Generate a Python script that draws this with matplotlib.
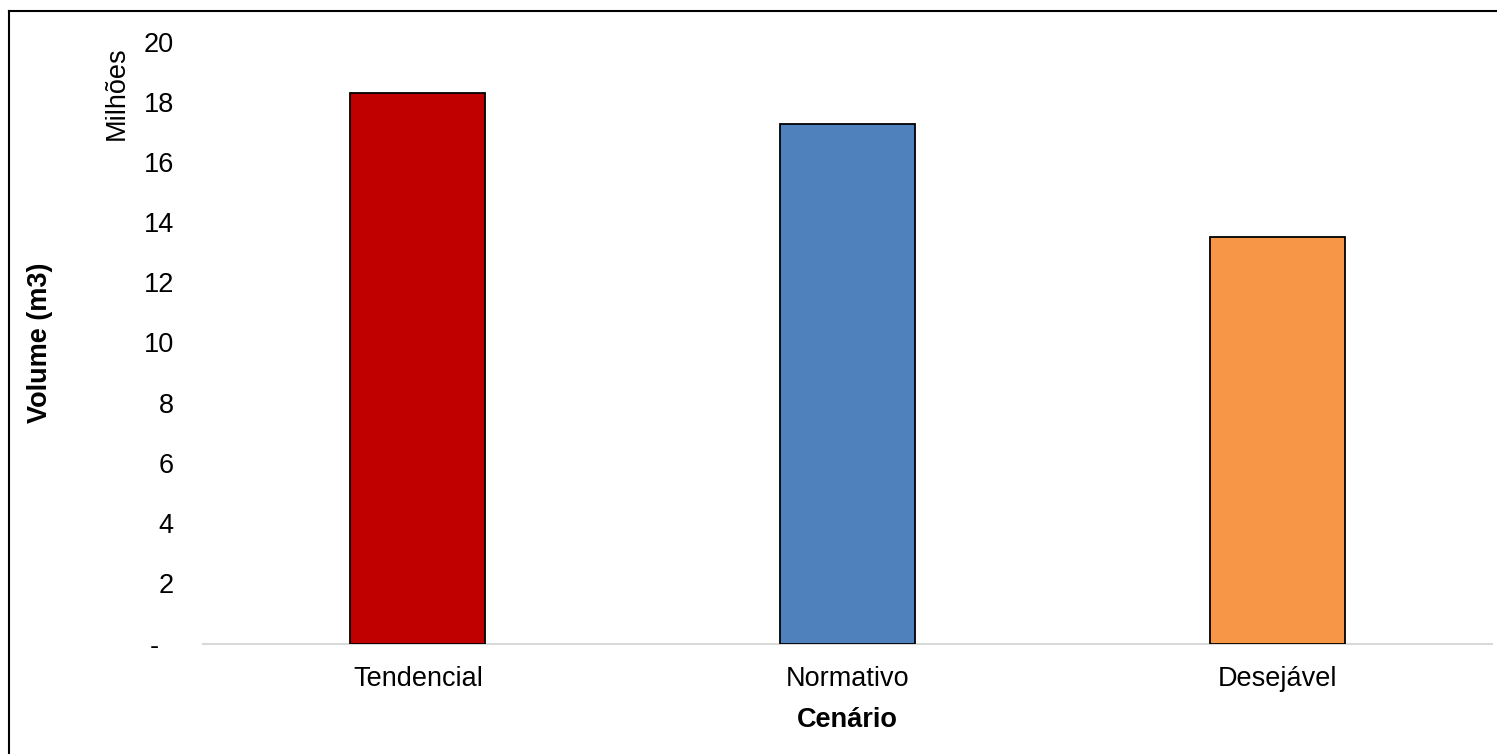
import matplotlib
matplotlib.use("Agg")
import matplotlib.pyplot as plt
from matplotlib.lines import Line2D

# Scenario volumes (millions of m3)
cenarios = ["Tendencial", "Normativo", "Desejável"]
volumes = [18.30, 17.27, 13.51]
cores = ["#C00000", "#4F81BD", "#F79646"]
yticks = [0, 2, 4, 6, 8, 10, 12, 14, 16, 18, 20]
ytick_labels = ["-  ", "2", "4", "6", "8", "10", "12", "14", "16", "18", "20"]

plt.rcParams["font.family"] = ["Liberation Sans", "DejaVu Sans"]

W, H = 1497, 754
FS = 19.5
fig = plt.figure(figsize=(W / 100, H / 100), dpi=100)
ax = fig.add_axes([203 / W, 1 - 643.5 / H, (1492 - 203) / W, (643.5 - 41.5) / H])

x = list(range(len(cenarios)))
ax.bar(x, volumes, width=0.314, color=cores, edgecolor="black", linewidth=1.3, zorder=3)

ax.set_xlim(-0.5, len(cenarios) - 0.5)
ax.set_ylim(0, 20)
ax.set_yticks(yticks)
ax.set_yticklabels(ytick_labels)
ax.set_xticks(x)
ax.set_xticklabels(cenarios)

ax.tick_params(axis="y", length=0, pad=21, labelsize=FS)
ax.tick_params(axis="x", length=0, pad=16, labelsize=FS)

for side in ["top", "right", "left"]:
    ax.spines[side].set_visible(False)
ax.spines["bottom"].set_color("#D9D9D9")
ax.spines["bottom"].set_linewidth(1.5)

ax.set_xlabel("Cenário", fontsize=FS, fontweight="bold", labelpad=11)
fig.text(40 / W, 1 - 342.5 / H, "Volume (m3)", rotation=90, fontsize=FS,
         fontweight="bold", ha="center", va="center")
fig.text(117 / W, 1 - 93 / H, "Milhões", rotation=90, fontsize=FS,
         ha="center", va="center")

# Outer chart frame (left and top edges)
fig.add_artist(Line2D([9 / W, 9 / W], [0, 1 - 11 / H], transform=fig.transFigure,
                      color="black", linewidth=1.5))
fig.add_artist(Line2D([9 / W, 1], [1 - 11 / H, 1 - 11 / H], transform=fig.transFigure,
                      color="black", linewidth=1.5))

fig.savefig("out.png", dpi=100)
